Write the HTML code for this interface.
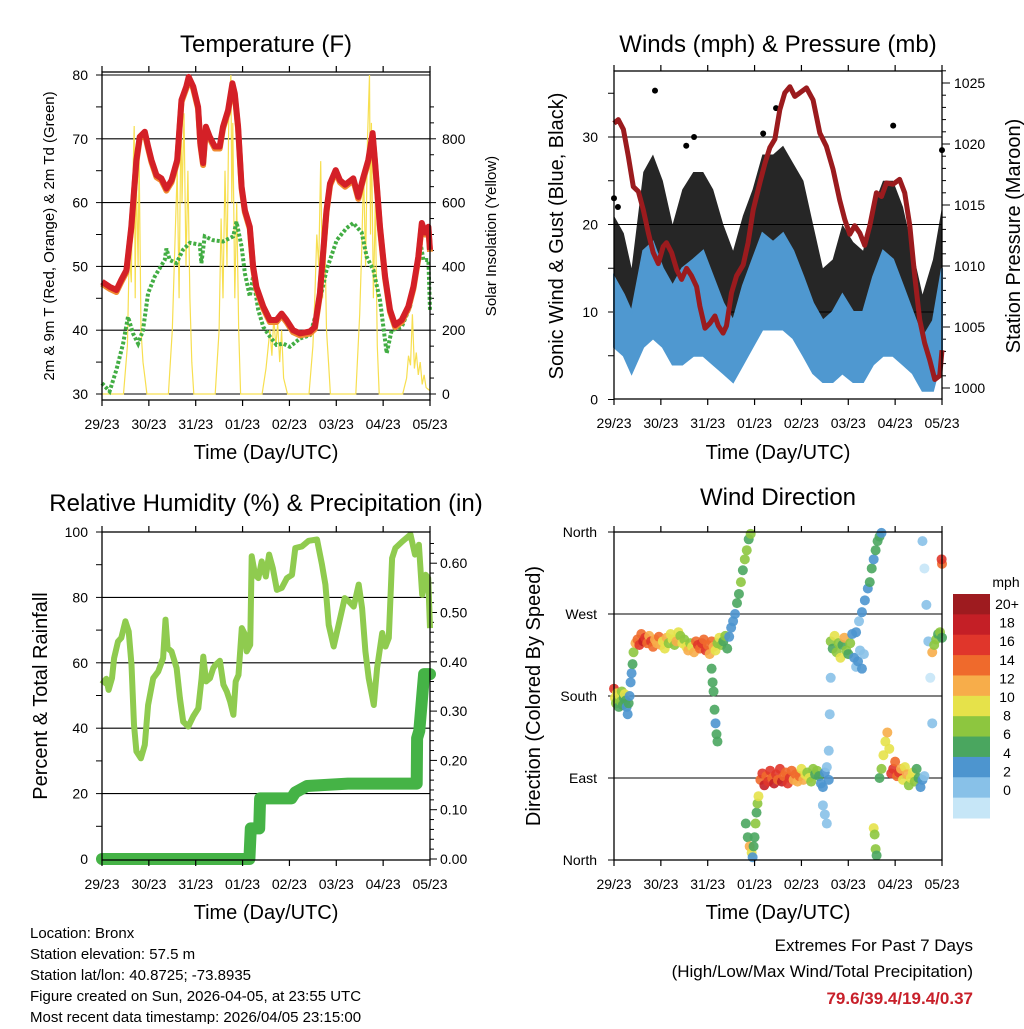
<!DOCTYPE html>
<html><head><meta charset="utf-8"><style>
body{margin:0;background:#fff}
svg text{font-family:"Liberation Sans",sans-serif;fill:#000}
</style></head><body>
<svg id="s" width="1024" height="1024" viewBox="0 0 1024 1024" xmlns="http://www.w3.org/2000/svg">
<rect width="1024" height="1024" fill="#fff"/>
<g id="g1"></g>
<g id="g2"></g>
<g id="g3"></g>
<g id="g4"></g>
<text x="266" y="52" font-size="24" text-anchor="middle">Temperature (F)</text>
<text x="778" y="52" font-size="24" text-anchor="middle">Winds (mph) &amp; Pressure (mb)</text>
<text x="266" y="511" font-size="24" text-anchor="middle">Relative Humidity (%) &amp; Precipitation (in)</text>
<text x="778" y="505" font-size="24" text-anchor="middle">Wind Direction</text>
<text x="266" y="459" font-size="20" text-anchor="middle">Time (Day/UTC)</text>
<text x="778" y="459" font-size="20" text-anchor="middle">Time (Day/UTC)</text>
<text x="266" y="919" font-size="20" text-anchor="middle">Time (Day/UTC)</text>
<text x="778" y="919" font-size="20" text-anchor="middle">Time (Day/UTC)</text>
<text transform="translate(54,236) rotate(-90)" font-size="15" text-anchor="middle">2m &amp; 9m T (Red, Orange) &amp; 2m Td (Green)</text>
<text transform="translate(496,236) rotate(-90)" font-size="15" text-anchor="middle">Solar Insolation (Yellow)</text>
<text transform="translate(563,236) rotate(-90)" font-size="20" text-anchor="middle">Sonic Wind &amp; Gust (Blue, Black)</text>
<text transform="translate(1020,236) rotate(-90)" font-size="20" text-anchor="middle">Station Pressure (Maroon)</text>
<text transform="translate(47,696) rotate(-90)" font-size="20" text-anchor="middle">Percent &amp; Total Rainfall</text>
<text transform="translate(540,696) rotate(-90)" font-size="20" text-anchor="middle">Direction (Colored By Speed)</text>
<g font-size="15">
<text x="30" y="938">Location: Bronx</text>
<text x="30" y="959">Station elevation: 57.5 m</text>
<text x="30" y="980">Station lat/lon: 40.8725; -73.8935</text>
<text x="30" y="1001">Figure created on Sun, 2026-04-05, at 23:55 UTC</text>
<text x="30" y="1022">Most recent data timestamp: 2026/04/05 23:15:00</text>
</g>
<text x="973" y="951" font-size="17" text-anchor="end">Extremes For Past 7 Days</text>
<text x="973" y="977" font-size="17" text-anchor="end">(High/Low/Max Wind/Total Precipitation)</text>
<text x="973" y="1004" font-size="17" font-weight="bold" text-anchor="end" style="fill:#c8202a">79.6/39.4/19.4/0.37</text>
<text x="1006" y="587" font-size="14" text-anchor="middle">mph</text>
</svg>
<script>
const dayLabels=["29/23","30/23","31/23","01/23","02/23","03/23","04/23","05/23"];
const tempTimes=[0,3.9,7.4,9.9,12.5,15,17.6,19.3,21.9,23.6,25.3,27.9,30.4,33,35.6,38.5,40.7,43.2,44.4,46.7,49.2,50.4,51.8,53.2,55.2,57.8,60.3,62,64.6,66.8,68,69.7,71.5,73.2,75.7,77.4,79.1,82.6,86,89.4,92,94.5,97.9,101.4,106.5,109,111.6,115,116.8,119.7,121.9,124.5,128.7,131.3,133.8,136.4,138.6,139.8,142.4,145,147.5,150.1,153.5,156.9,159.5,162,163.8,165.5,167.2,168];
const tempRed=[47.6,46.8,46.3,47.9,49.4,56.2,66.7,70.3,71.1,68.8,66.7,64.3,63.8,62.2,63.5,66.7,76.1,78.2,79.7,78.2,75,69.3,66.2,71.9,70.3,68.8,68.8,71.9,74.5,78.7,77.1,71.9,62.5,58.8,56.2,50,46.8,43.7,41.6,41.6,42.6,41.6,40,39.5,39.8,40.5,45.8,58.8,63,65.1,63.5,62.8,63.8,60.9,63.9,66.7,70.9,66.7,56.2,48.4,43.2,40.8,41.6,43.7,46.8,51.5,56.8,55.3,56.2,52.6];
const dewTimes=[0,3.9,7.4,10.8,13.3,15.9,18.5,21,23.6,27,32.1,33,34.7,38.1,41.5,45,50.1,50.9,52.6,56.9,62,67.2,68.9,71.5,73.2,75.7,77.4,80,82.6,86,89.4,92.8,96.2,101.4,106.5,111.6,115,120.2,125.3,128.7,133,135.6,139,142.4,145.8,148.4,153.5,157.8,160.3,162.9,164.6,167.2,168];
const dewVals=[31.7,30.4,33.8,37.9,42.1,39.5,37.9,40,45.8,48.4,51,52.8,51,50.5,52.6,53.7,53.4,50.5,54.7,54.1,53.9,54.7,57,53.1,48.9,45.3,48.4,43.2,40.5,39,37.7,37.9,37.4,38.7,39.2,44.7,49.4,54.1,56,56.8,55.3,51.5,49.4,44.7,36.4,40,40.5,43.7,47.9,54.1,51,51,43.2];
const solarTimes=[0,11,13,14,15,15.5,16.5,17,17.5,18.5,19,20,21,22,23,34,36,37.5,38.5,39.5,40.5,41,42,43,44,45,46,47,58,60,61,62,63,64,65,66,66.5,67,68,69,70,71,82,84,86,87,88,89,90,91,92,93,95,106,108,109,110,111,112,113,114,115,116,117,130,132,133,134,135,136,137,137.5,138,139,140,141,142,154,156,157,158,159,160,161,162,163,164,165,166,168];
const solarVals=[0,0,150,450,350,600,840,300,700,400,750,200,100,50,0,0,200,500,700,300,920,600,880,400,700,300,100,0,0,200,550,300,700,400,900,1000,600,850,300,600,200,0,0,80,200,120,240,150,220,100,200,50,0,0,150,300,500,400,730,300,550,200,100,0,0,250,450,700,400,800,1000,500,850,300,600,150,0,0,50,120,90,250,80,130,60,100,30,60,20,10];
const windTimes=[0,5,9,15,20,25,30,35,40.6,45.7,50.8,56,61,66,71,76,81.5,86.6,91.8,97,102,107,112,117,122.5,127.6,132.7,137.8,142.9,148,153,158,163.4,168];
const windLo=[6,5,3,6,7,6,4,4,5,5,4,3,2,4,6,8,8,8,7,5,3,2,2,3,2,2,4,5,5,4,3,1,1,5];
const windHi=[14,12,10,17,18,15,13,15,16,17,14,11,9,13,16,19,18,19,17,14,11,9,10,12,10,10,14,17,16,13,10,7,9,15];
const gustLo=[9,8,7,12,14,10,9,12,14,13,10,8,6,9,11,14,15,15,13,11,8,5,5,7,5,5,8,10,9,8,6,4,5,10];
const gustHi=[21,19,15,26,28,25,20,24,26,26,24,20,17,21,24,28,28,29,27,25,20,15,16,20,18,17,22,25,25,22,17,12,16,22];
const gustOutT=[21,37,41,76.4,83,143,168,0,2];
const gustOutV=[35.3,29,30,30.4,33.3,31.3,28.5,23,22];
const presTimes=[0,2.2,4.8,7.3,9.9,12.5,15,17.6,20.1,22.7,25.2,26.9,29.5,32.1,34.6,37.2,39.7,42.3,44,46.6,49.1,51.7,53.4,55.9,57.6,60.2,62.8,66.2,68.7,71.3,74.7,77.3,79.8,82.4,84.9,87.5,90.1,92.6,95.2,98.6,102,105.4,108.8,112.2,115.6,118.2,120.8,123.3,125.9,128.4,131,134.4,137,139.5,142.9,146.3,148.9,151.5,154,156.6,159.1,161.7,164.3,166.8,168];
const presVals=[1021.7,1022.0,1021.2,1019.0,1016.5,1016.1,1014.6,1012.7,1011.1,1010.2,1011.6,1011.9,1011.1,1009.7,1008.9,1009.8,1009.2,1008.3,1006.7,1004.9,1005.3,1005.9,1005.1,1004.5,1005.1,1007.8,1009.2,1010.1,1011.9,1014.6,1016.8,1018.4,1019.7,1020.4,1022.8,1024.2,1024.7,1023.9,1024.2,1024.6,1023.6,1020.9,1019.8,1017.9,1015.4,1013.8,1012.6,1013.3,1012.7,1011.7,1013.3,1016.0,1015.7,1016.8,1016.7,1017.1,1016.0,1013.3,1009.2,1005.6,1003.7,1002.3,1000.7,1001.0,1003.1];
const rhTimes=[0,2.2,3.4,5.1,6.2,8.2,9.9,12,13.7,15.1,16.4,17.6,19.9,21.9,23.6,26.2,28.8,31.3,32.5,33.6,35.6,38.2,39.9,41.6,44.2,46.7,49.3,51,51.9,53.3,55.3,57,58.2,60.4,62.2,63.9,65.6,67.3,68.5,69.9,71.6,73.3,74.1,75.9,76.7,78.4,80.1,81.8,83.9,85.6,87.5,89.6,92.1,94.7,97.3,99,102.4,105.8,110.1,112.7,114.4,116.1,118.7,121.2,124.3,126.4,128.9,131.5,133.2,134.9,136.6,139.2,140.9,143.5,145.2,146.9,148.6,150.3,153.8,158,160.3,162.3,164,165.8,167.1,168];
const rhVals=[53.5,55.1,51.7,55.3,61.4,66.5,67.6,72.7,69.6,59.4,41,32.9,30.8,34.9,47.1,55.3,57.3,61.4,73.2,64.5,63.5,58.4,49.2,42,40.5,43.6,46.1,55.3,61.9,54.3,55.3,58.4,59.4,60.6,53.3,51.2,48.2,44.1,54.3,56.3,70.6,68.6,63.5,65.5,92.6,86.9,85.9,91,86.4,93.1,89,82.3,82.9,85.9,86.9,95.1,95.6,97.3,97.7,90,83.9,71.6,65,71.6,79.8,78.8,77.2,83.9,76.7,63.5,55.3,47.1,58.4,69.1,65,67.6,92,95.1,97.1,99.2,93.1,96.1,80.8,86.9,85.9,70.6];
const rainTimes=[0,75.5,76.2,80.5,81,97,99,105,126,161.2,161.4,162.5,164,165,168];
const rainVals=[0,0,0.062,0.062,0.123,0.123,0.135,0.148,0.153,0.153,0.245,0.26,0.33,0.375,0.375];
const dirTimes=[0,0.5,1,1.5,2,2.5,3,3.5,4,4.5,5,5.5,6,6.5,7,7.5,8, 8.5,9,9.5,10,
11,12,13,14,15,16,17,18,19,20,21,22,23,24,25,26,27,28,29,30,31,32,33,34,35,36,37,38,39,40,41,42,43,44,45,46,47,48,49,50,51,52,53,54,55,56,57,
50,50.5,51,51.5,52,52.5,53,
58,59,60,61,62,63,64,65,66,67,68,69,70,
67.5,68.5,69.5,70.5,71, 71.5,72,72.5,73,73.5,74,
75,76,77,78,79,80,81,82,83,84,85,86,87,88,89,90,91,92,93,94,95,96,97,98,99,100,101,102,103,104,105,106,107,108,109,110,
107,108,109,110,110.5,111,
111,112,113,114,115,116,117,118,119,120,121,122,123,124,125,126,127,128,
124,125.5,127,128.5,130,131,132,133,134,135,136,137,
133,133.5,134,134.5,
136,137,138,139,140,141,142,143,144,145,146,147,148,149,150,151,152,153,154,155,156,157,158,159,
158,159,160,161,162,163,
163,164,165,166,167,168,168,167.8];
const dirDegs=[188,178,172,183,176,168,180,174,185,170,178,182,175,168,160,172,180, 195,205,215,228,
238,242,236,248,240,244,238,246,240,234,242,238,245,236,240,232,244,238,248,242,236,240,250,246,238,242,234,230,238,234,228,240,236,232,238,242,230,236,226,240,234,230,238,244,236,240,246,
210,195,185,165,150,138,130,
232,245,255,262,270,282,292,305,318,330,340,352,358,
40,25,15,8,3, 15,25,40,52,62,70,
88,95,82,92,86,98,90,84,94,88,100,86,92,96,84,90,98,88,94,86,92,100,88,94,96,90,86,100,94,98,92,84,80,96,102,88,
60,50,40,120,160,200,
240,232,246,228,238,222,236,244,230,226,238,248,222,212,218,230,210,226,
250,262,272,285,298,305,320,330,340,350,355,359,
35,28,12,5,
90,100,115,130,140,122,95,100,108,92,96,100,88,102,94,82,90,96,86,100,90,80,88,92,
350,320,280,240,200,150,
228,236,242,248,250,244,325,330];
const dirSpeeds=[16,10,8,11,9,7,10,8,9,6,7,10,6,5,4,6,5, 5,5,6,8,
13,15,17,14,18,16,15,12,16,14,13,12,15,13,11,10,12, 9,11,10,8,12,10,9,11,8,10,12,9,11,13,14, 16,15,17,14,16,15,13,14,12,11, 9,10,8,7,9,
6,6,7,6,5,6,6,
7,5,4,5,4,6,7,8,7,9,8,7,9,
7,6,12,11,5, 6,7,8,7,8,10,
14,16,18,15,17,16,14,18,17,15,16,18,14,15,17,16,14,13,15,12,14,11,12,10,9,10,8,9,7,8,6,5,4,5,3,4,
2,3,2,2,2,3,
8,7,10,9,8,11,7,12,9,6,8,5,4,3,4,3,4,3,
4,3,4,4,5,6,6,5,6,7,6,5,
10,9,8,6,
7,9,10,11,12,10,17,16,15,14,16,13,11,10,12,9,10,11,8,7,6,4,5,3,
2,1,3,2,1,3,
12,9,8,7,8,7,15,16];
const speedLabels=["20+","18","16","14","12","10","8","6","4","2","0"];
const speedColors=["#9e1b1f","#c41f26","#e0362b","#ef6a2c","#f7ad4a","#e6e24a","#8dc63f","#4aa65f","#4d95cf","#88c1e8","#c6e6f7"];

const NS="http://www.w3.org/2000/svg";
function mk(tag,parent,attrs){const e=document.createElementNS(NS,tag);for(const k in attrs)e.setAttribute(k,attrs[k]);parent.appendChild(e);return e;}
const W=328;
function xt(t,x0){return x0+t/168*W;}
const ty=v=>394-(v-30)*6.38, sy=w=>394-w*0.319;
const wy=v=>399.5-v*8.75, py=p=>388-(p-1000)*12.2;
const ry=v=>859-v*3.27, pry=i=>859-i*493;
const dy=d=>860-d*328/360;
function pts(ts,vs,x0,f){return ts.map((t,i)=>xt(t,x0).toFixed(1)+","+f(vs[i]).toFixed(1)).join(" ");}

function frame(g,x0,y0,y1,name){
  const b=mk('rect',g,{x:x0,y:y0,width:W,height:y1-y0,fill:'none',stroke:'#000','stroke-width':1.3});
  
  
  for(let i=0;i<8;i++){
    const x=x0+i*W/7;
    const tk=mk('path',g,{d:`M${x},${y1}v6M${x},${y0}v-6`,stroke:'#000','stroke-width':1.2});
    
    
    const lb=mk('text',g,{x:x,y:y1+29,'font-size':14,'text-anchor':'middle'});
    lb.textContent=dayLabels[i];
    
    
  }
}
function grid(g,x0,y,name){const l=mk('line',g,{x1:x0,x2:x0+W,y1:y,y2:y,stroke:'#000','stroke-width':1.1});
  
  }
function ylab(g,x,y,txt,anchor,name){const t=mk('text',g,{x:x,y:y+5,'font-size':14,'text-anchor':anchor});t.textContent=txt;
  
  }
function tick(g,x,y,len){const t=mk('line',g,{x1:x,x2:x+len,y1:y,y2:y,stroke:'#000','stroke-width':1});
  
  }

(function(){
 const g=document.getElementById('g1'),x0=102;
 for(let v=30;v<=80;v+=10){grid(g,x0,ty(v),'temp-gridline');ylab(g,88,ty(v),String(v),'end','temp-y-label');}
 for(let v=30;v<=80;v+=5)tick(g,x0,ty(v),-6);
 for(let w=0;w<=900;w+=50)tick(g,x0+W,sy(w),w%200==0?6:4);
 for(let w=0;w<=800;w+=200)ylab(g,442,sy(w),String(w),'start','solar-y-label');
 const s=mk('polyline',g,{points:pts(solarTimes,solarVals,x0,sy),fill:'none',stroke:'#f7df50','stroke-width':1.2});
 
 
 const d=mk('polyline',g,{points:pts(dewTimes,dewVals,x0,ty),fill:'none',stroke:'#42ad43','stroke-width':4,'stroke-dasharray':'3 2'});
 
 
 const o=mk('polyline',g,{points:pts(tempTimes,tempRed,x0,ty),fill:'none',stroke:'#f08a30','stroke-width':6,transform:'translate(0,2)','stroke-linejoin':'round'});
 
 
 const r=mk('polyline',g,{points:pts(tempTimes,tempRed,x0,ty),fill:'none',stroke:'#d42027','stroke-width':6,'stroke-linejoin':'round'});
 
 
 frame(g,x0,72,400,'temp');
})();

(function(){
 const g=document.getElementById('g2'),x0=614;
 for(let v=10;v<=30;v+=10)grid(g,x0,wy(v),'wind-gridline');
 for(let v=0;v<=30;v+=10)ylab(g,598,wy(v),String(v),'end','wind-y-label');
 for(let v=0;v<=35;v+=5)tick(g,x0,wy(v),-6);
 for(let p=1000;p<=1026;p+=1)tick(g,x0+W,py(p),p%5==0?8:4);
 for(let p=1000;p<=1025;p+=5)ylab(g,954,py(p),String(p),'start','pressure-y-label');
 const gb=mk('polygon',g,{points:pts(windTimes,gustHi,x0,wy)+" "+pts(windTimes.slice().reverse(),gustLo.slice().reverse(),x0,wy),fill:'#000','fill-opacity':0.85,stroke:'none'});
 
 
 gustOutT.forEach((t,i)=>{const c=mk('circle',g,{cx:xt(t,x0),cy:wy(gustOutV[i]),r:3,fill:'#000'});
  
  });
 const wb=mk('polygon',g,{points:pts(windTimes,windHi,x0,wy)+" "+pts(windTimes.slice().reverse(),windLo.slice().reverse(),x0,wy),fill:'#4f98d0',stroke:'#4f98d0','stroke-width':2});
 
 
 const pl=mk('polyline',g,{points:pts(presTimes,presVals,x0,py),fill:'none',stroke:'#9b1b1e','stroke-width':5,'stroke-linejoin':'round'});
 
 
 frame(g,x0,71,399,'wind');
})();

(function(){
 const g=document.getElementById('g3'),x0=102;
 for(let v=20;v<=80;v+=20)grid(g,x0,ry(v),'humidity-gridline');
 for(let v=0;v<=100;v+=20)ylab(g,88,ry(v),String(v),'end','humidity-y-label');
 for(let v=0;v<=100;v+=10)tick(g,x0,ry(v),-6);
 for(let i=0;i<=0.66;i+=0.02)tick(g,x0+W,pry(i),Math.round(i*100)%10==0?7:4);
 for(let k=0;k<=6;k++)ylab(g,440,pry(k/10),(k/10).toFixed(2),'start','precip-y-label');
 const rh=mk('polyline',g,{points:pts(rhTimes,rhVals,x0,ry),fill:'none',stroke:'#8fcb4f','stroke-width':6,'stroke-linejoin':'round'});
 
 
 const pr=mk('polyline',g,{points:pts(rainTimes,rainVals,x0,pry),fill:'none',stroke:'#45b346','stroke-width':12,'stroke-linejoin':'round','stroke-linecap':'round'});
 
 
 frame(g,x0,532,860,'humidity');
})();

(function(){
 const g=document.getElementById('g4'),x0=614;
 const names=["North","East","South","West","North"];
 for(let k=0;k<=4;k++){if(k>0&&k<4)grid(g,x0,dy(k*90),'direction-gridline');
   tick(g,x0,dy(k*90),-6);ylab(g,597,dy(k*90),names[k],'end','direction-y-label');}
 function col(s){let b=Math.floor(s/2);if(b>10)b=10;return speedColors[10-b];}
 dirTimes.forEach((t,i)=>{const c=mk('circle',g,{cx:xt(t,x0),cy:dy(dirDegs[i]),r:5,fill:col(dirSpeeds[i]),'fill-opacity':0.9});
  
  });
 frame(g,x0,532,860,'direction');
 const cb=224/11;
 speedColors.forEach((c,i)=>{const r=mk('rect',g,{x:953,y:594+i*cb,width:37,height:cb+0.5,fill:c});
  
  
  const t=mk('text',g,{x:1007,y:604+i*18.6+5,'font-size':14,'text-anchor':'middle'});t.textContent=speedLabels[i];
  
  });
})();
</script>
</body></html>
